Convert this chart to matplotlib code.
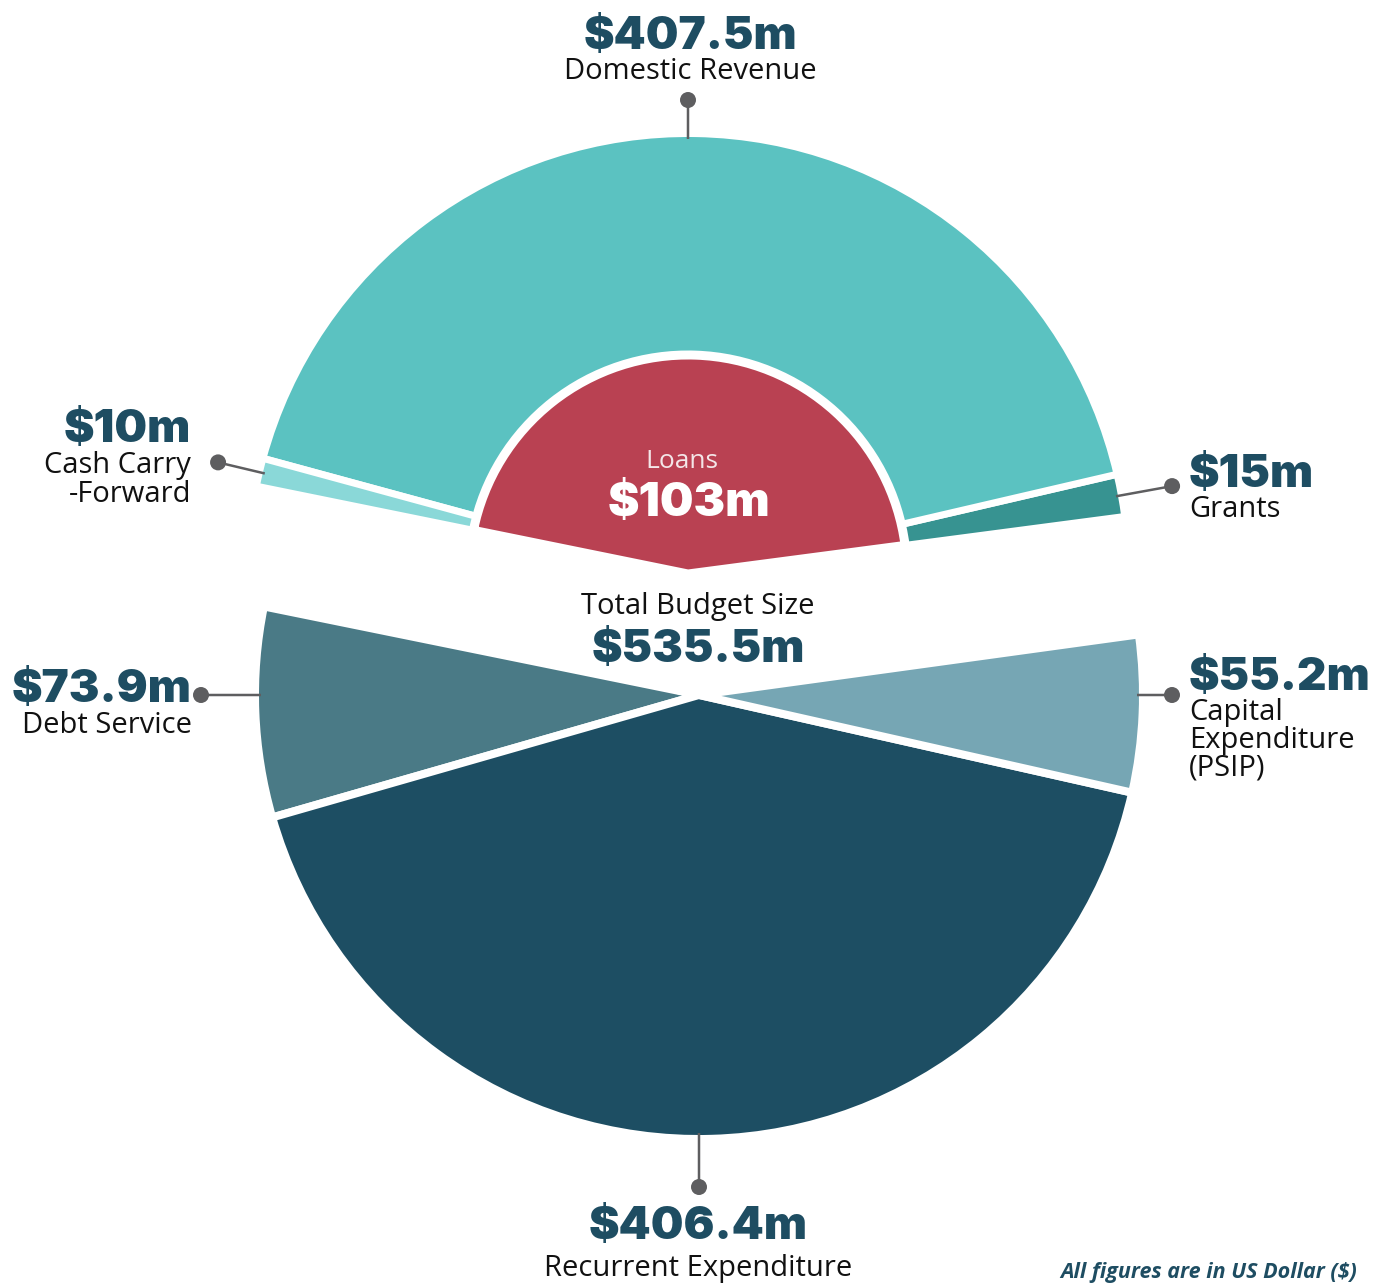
import numpy as np
import matplotlib
matplotlib.use("Agg")
import matplotlib.pyplot as plt
from matplotlib.patches import Wedge, Circle

# ---------------- data ----------------
revenue_labels = ["Grants", "Domestic Revenue", "Cash Carry\n-Forward"]
revenue_values = [15.0, 407.5, 10.0]
revenue_colors = ["#379391", "#5BC2C1", "#8AD8D8"]

loans_label = "Loans"
loans_value = 103.0
loans_color = "#B94152"

expenditure_labels = ["Debt Service", "Recurrent Expenditure", "Capital\nExpenditure\n(PSIP)"]
expenditure_values = [73.9, 406.4, 55.2]
expenditure_colors = ["#4A7A86", "#1D4E63", "#76A6B4"]

total_budget = 535.5

# ---------------- layout ----------------
W, H = 1388, 1284
PX = 72 / 100.0  # points per pixel


def Y(y):
    return H - y


fig = plt.figure(figsize=(W / 100, H / 100), dpi=100)
ax = fig.add_axes([0, 0, 1, 1])
ax.set_xlim(0, W)
ax.set_ylim(0, H)
ax.set_aspect("equal")
ax.axis("off")

START = 7.5
END = 168.5
deg_per_m = (END - START) / sum(revenue_values)

TOP_C = (688, Y(574))
R_TOP = 437
BOT_C = (699, Y(695))
R_BOT = 440

VAL_COLOR = "#1E4D62"
LAB_COLOR = "#111111"
LEAD_COLOR = "#5E5E60"
VAL_FONT = dict(family="Inter", fontweight="black", fontsize=33, color=VAL_COLOR)
LAB_FONT = dict(family="Open Sans", fontsize=21, color=LAB_COLOR)

# top outer ring
theta = START
top_mids = []
for v, c in zip(revenue_values, revenue_colors):
    t2 = theta + v * deg_per_m
    ax.add_patch(Wedge(TOP_C, R_TOP + 3.5, theta, t2, facecolor=c,
                       edgecolor="white", linewidth=7 * PX))
    top_mids.append((theta + t2) / 2)
    theta = t2

# loans inner wedge
ax.add_patch(Wedge(TOP_C, 219, START, END, facecolor=loans_color,
                   edgecolor="white", linewidth=9 * PX))

# bottom wedges
theta = END
bot_mids = []
for v, c in zip(expenditure_values, expenditure_colors):
    t2 = theta + v * deg_per_m
    ax.add_patch(Wedge(BOT_C, R_BOT + 4, theta, t2, facecolor=c,
                       edgecolor="white", linewidth=8 * PX))
    bot_mids.append((theta + t2) / 2)
    theta = t2


def leader(center, r0, ang, r1):
    a = np.deg2rad(ang)
    x0, y0 = center[0] + r0 * np.cos(a), center[1] + r0 * np.sin(a)
    x1, y1 = center[0] + r1 * np.cos(a), center[1] + r1 * np.sin(a)
    ax.plot([x0, x1], [y0, y1], color=LEAD_COLOR, lw=2.5 * PX, solid_capstyle="butt", zorder=3)
    ax.add_patch(Circle((x1, y1), 8, facecolor=LEAD_COLOR, edgecolor="none", zorder=4))


# leaders (grants, domestic, cash)
leader(TOP_C, R_TOP - 2, top_mids[0], 492)
leader(TOP_C, R_TOP - 2, 90.0, 474)
leader(TOP_C, R_TOP - 2, top_mids[2], 483)
# (debt, recurrent, capital)
leader(BOT_C, R_BOT - 2, 180.0, 498)
leader(BOT_C, R_BOT - 2, 270.0, 492)
leader(BOT_C, R_BOT - 2, 360.0, 473)


def fmt(v):
    s = f"{v:.1f}"
    if s.endswith(".0"):
        s = s[:-2]
    return f"${s}m"


def label_block(x, y_val, lines, ha, value, line_h=28.5, gap=29):
    ax.text(x, Y(y_val), fmt(value), ha=ha, va="baseline", **VAL_FONT)
    for i, ln in enumerate(lines):
        ax.text(x, Y(y_val + gap + i * line_h), ln, ha=ha, va="baseline", **LAB_FONT)


# domestic revenue
label_block(690, 49, ["Domestic Revenue"], "center", revenue_values[1], gap=30)
# cash carry-forward
label_block(191, 442, revenue_labels[2].split("\n"), "right", revenue_values[2], gap=31)
# grants
label_block(1189, 487, [revenue_labels[0]], "left", revenue_values[0], gap=30)
# debt service
label_block(192, 702, [expenditure_labels[0]], "right", expenditure_values[0], gap=31)
# capital
label_block(1189, 690, expenditure_labels[2].split("\n"), "left", expenditure_values[2], gap=30, line_h=28)
# recurrent
label_block(698, 1239, [expenditure_labels[1]], "center", expenditure_values[1], gap=37)

# loans text
ax.text(682, Y(468), loans_label, ha="center", va="baseline", family="Open Sans",
        fontsize=19, color="#F4E6E8")
ax.text(689, Y(516), fmt(loans_value), ha="center", va="baseline",
        family="Inter", fontweight="black", fontsize=34, color="white")

# total budget
ax.text(698, Y(614), "Total Budget Size", ha="center", va="baseline", **LAB_FONT)
ax.text(698, Y(662), fmt(total_budget), ha="center", va="baseline", **VAL_FONT)

# footnote
ax.text(1357, Y(1278), "All figures are in US Dollar ($)", ha="right", va="baseline",
        family="Open Sans", fontweight="bold", style="italic", fontsize=15.5, color=VAL_COLOR)

fig.savefig("out.png", dpi=100, facecolor="white")
